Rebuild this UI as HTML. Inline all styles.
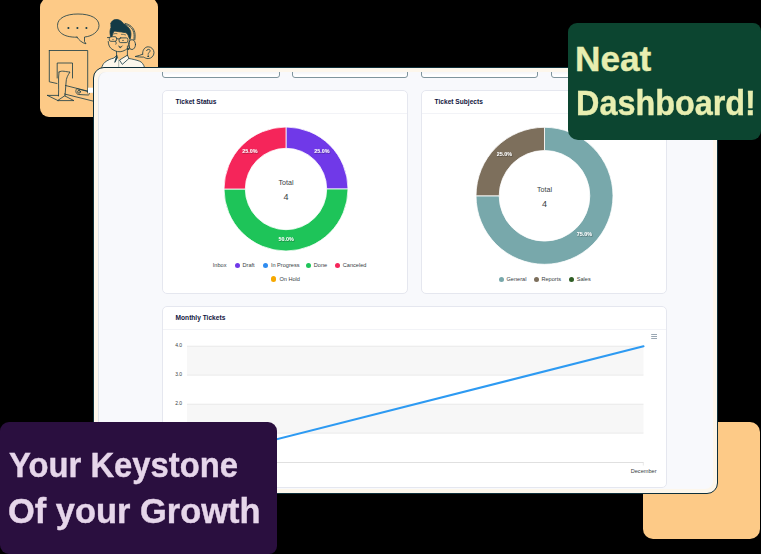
<!DOCTYPE html>
<html><head><meta charset="utf-8">
<style>
*{box-sizing:border-box;margin:0;padding:0}
html,body{width:761px;height:554px;overflow:hidden;background:#000}
body{position:relative;font-family:"Liberation Sans",sans-serif}
.abs{position:absolute}
.or{background:#fdca87}
.frame{left:93px;top:67px;width:625px;height:427px;border:1px solid #0e2f3a;border-radius:11px;background:#fdf7ec}
.inner{left:98px;top:72px;width:615px;height:417px;background:#f8f9fc;border-radius:8px;border-left:1px solid #dfe4ea;overflow:hidden}
.tc{background:linear-gradient(#f6f7fa 0,#f6f7fa 34px,#fff 36px);border:1px solid #7f959d;border-radius:3px;height:40px;top:-34px}
.card{background:#fff;border:1px solid #e5e7ef;border-radius:5px}
.ttl{position:absolute;left:12.6px;top:7px;font-weight:bold;font-size:6.6px;color:#121640;white-space:nowrap}
.hdiv{position:absolute;left:0;right:0;top:22px;height:1px;background:#f2f3f7}
.lg{position:absolute;font-size:5.6px;color:#373d3f;white-space:nowrap}
.dot{position:absolute;width:5.4px;height:5.4px;border-radius:50%}
.neat{left:568px;top:23px;width:193px;height:117px;background:#0c4530;border-radius:9px 8px 9px 10px}
.neat div{position:absolute;left:8px;font-weight:bold;font-size:35.2px;color:#e8eeb0;white-space:nowrap;line-height:1;transform-origin:0 0;-webkit-text-stroke:0.4px #e8eeb0}
.key{left:0;top:422px;width:277px;height:132px;background:#2a0f3f;border-radius:9px 9px 8px 9px}
.key div{position:absolute;left:8px;font-weight:bold;font-size:35.2px;color:#e6d6ea;white-space:nowrap;line-height:1;transform-origin:0 0;-webkit-text-stroke:0.4px #e6d6ea}
</style></head>
<body>
<!-- top-left orange illustration card -->
<div class="abs or" style="left:40px;top:-2px;width:118px;height:119px;border-radius:9px"></div>
<svg class="abs" style="left:0;top:0" width="170" height="125" viewBox="0 0 170 125" fill="none" stroke="#143a45" stroke-width="0.8" stroke-linecap="round" stroke-linejoin="round">
  <!-- speech bubble -->
  <path d="M77 37.2 C 62 37.5 57.5 31 57.5 25.5 C 57.5 18 66 14 78 14 C 91 14 99 18.5 99 25.5 C 99 31.5 92 36.5 84.5 37 L 84.5 41.5 L 86 43.8 C 82 43 79 40 77 37.2 Z"/>
  <circle cx="68.4" cy="28" r="1.05" fill="#143a45" stroke="none"/>
  <circle cx="77.4" cy="28" r="1.05" fill="#143a45" stroke="none"/>
  <circle cx="86.4" cy="28" r="1.05" fill="#143a45" stroke="none"/>
  <!-- monitor -->
  <path d="M49.3 50.5 L87.7 50.5 L87.7 93 M49.3 50.5 L49.3 81.8 L57 83.5"/>
  <path d="M57.2 78 L57.2 63 L72.5 63 L72.5 78"/>
  <path d="M59 72 C 62 70 66 72 70 72 C 68 75 66 78 66 83 L 65 96 M 59 72 C 58 78 59 88 58.5 96"/>
  <path d="M47.4 95.4 L 58.5 95.4 M 65 96 L 73.9 100.6 L 58 100.6 Z"/>
  <path d="M47.4 95.4 L 58 100.6"/>
  <path d="M65.5 85.5 L 92.8 92.4 M 64.5 94 L 92.8 101"/>
  <path d="M76.5 89 C 75 91 76 94 78.5 94.5 L 88 95 C 90 95 90 92 88 91.5 Z"/>
  <circle cx="79" cy="91.8" r="1.4"/>
  <rect x="88" y="87.7" width="5.5" height="5.2" fill="#fff" stroke="none"/>
  <!-- person: shirt -->
  <path d="M101.6 68 C 102.3 65.5 103.3 63.6 104.8 62.3 C 107.5 60.2 110.8 58.7 113.8 58.1 L 116.6 55.6 L 118.7 60.2 L 127.6 55.5 L 128.9 58.5 C 132 59 136.5 60 139.4 61.1 C 141.8 62 143.6 64 144.7 68 Z" fill="#fbf7ec" stroke="none"/>
  <path d="M101.6 68 C 102.3 65.5 103.3 63.6 104.8 62.3 C 107.5 60.2 110.8 58.7 113.8 58.1 L 116.6 55.6 M 128.9 58.5 C 132 59 136.5 60 139.4 61.1 C 141.8 62 143.6 64 144.7 68"/>
  <path d="M116.6 55.6 L 114.8 62.4 L 117.4 57.8 Z" fill="#143a45"/>
  <path d="M118.7 60.2 L 118.7 67.5" stroke="#8a9a90" stroke-width="0.7"/>
  <path d="M119.7 60.4 L 122.3 64.4 L 128.9 58.5 L 127.6 55.5 Z"/>
  <!-- neck -->
  <path d="M116.5 51.6 L 116.6 55.6 M 127.4 46 L 127.4 55.5"/>
  <circle cx="128.2" cy="49" r="0.6" fill="#143a45"/>
  <!-- face -->
  <path d="M108.2 41.5 C 108.3 45 109.8 47.8 112 49.2 C 114 50.5 116 51.3 117.5 51.6 C 121 52.2 124.8 51 127.6 48.3"/>
  <path d="M115.6 41.5 C 116.2 42.5 116.5 43.3 115.9 44.2"/>
  <path d="M118.6 46.2 C 119.6 47.5 121.4 47.4 122.3 46 M119.3 46.8 C 119.5 48 120.6 48.2 121.1 47.1"/>
  <!-- hair -->
  <path d="M111 23.2 C 111.8 20.8 113.6 19.7 115.7 19.6 C 117.5 19.5 119.3 19.9 120.6 20.8 C 122 21.6 123 22.7 123.4 23.8 C 125 24.6 126.6 25.7 127.8 27 C 129.2 28.4 130.2 29.8 130.6 31.4 C 131 33 131 34.5 130.8 36 C 130.6 37.3 130.3 38.5 130 39.6 C 129.3 38.5 128.8 37.2 128.4 35.8 C 127.9 34.6 127.2 33.6 126.5 33 C 125.5 32.5 124.8 32.4 124 32.4 C 122.3 32.1 120.6 31.8 118.9 31.7 C 117.4 31.5 115.9 31.2 114.5 31.1 C 113.8 31.7 113.3 32.4 112.9 33.3 C 112.5 34.3 112.2 35.4 112 36.5 C 111.4 36.3 110.8 36.1 110.4 35.8 C 110.1 34.3 110 32.8 110 31.4 C 110.1 30.1 110.5 28.8 111 27.6 C 110.8 26.1 110.8 24.6 111 23.2 Z" fill="#143a45"/>
  <path d="M113.5 33.9 C 114.6 33.5 115.8 33.4 117 33.6 M 121.3 34.3 C 122.8 34.2 124.3 34.4 125.6 34.9" stroke-width="0.6"/>
  <!-- glasses -->
  <path d="M107.4 37.6 L 109.3 37.4"/>
  <rect x="109.3" y="36.7" width="7.3" height="4.6" rx="1.6"/>
  <rect x="119.1" y="37.9" width="8.8" height="4.7" rx="1.6"/>
  <path d="M116.6 38.6 L 119.1 39"/>
  <circle cx="123" cy="40.4" r="0.6" fill="#143a45" stroke="none"/>
  <circle cx="113" cy="39.4" r="0.5" fill="#143a45" stroke="none"/>
  <!-- headphone -->
  <path d="M124.5 24.5 C 129 25 132.5 28 133.7 32.5 C 134.3 35 134.2 37.5 133.8 39.8"/>
  <path d="M125 23.4 C 130 24.2 133.6 27.6 134.8 32.3 C 135.3 34.8 135.2 37.3 134.8 39.8"/>
  <ellipse cx="132" cy="44.6" rx="3.5" ry="4.9" fill="#fdca87"/>
  <path d="M129.6 40.5 C 129 43 129 46.5 129.8 48.8"/>
  <!-- question bubble -->
  <path d="M142.7 54.2 C 142.2 50.5 144.6 46.8 148.2 46.8 C 151.5 46.8 154 49.5 154 52.7 C 154 55.9 151.3 58.6 148.1 58.6 C 146.4 58.6 144.9 57.9 143.8 57.1 C 141 57.2 138 56.9 135.1 56.5 C 138 55.9 140.6 55.2 142.7 54.2"/>
  <path d="M146.6 50.6 C 146.8 48.9 150.3 48.7 150.1 50.9 C 149.9 52.4 148.1 52.6 148.1 54.3"/>
  <circle cx="148.1" cy="56.2" r="0.45" fill="#143a45"/>
</svg>

<!-- bottom-right orange card -->
<div class="abs or" style="left:643px;top:422px;width:117px;height:117px;border-radius:10px"></div>

<!-- dashboard frame -->
<div class="abs frame"></div>
<div class="abs inner">
  <!-- top cards (coords relative to inner: x-98, y-72) -->
  <div class="abs tc" style="left:63px;width:118px"></div>
  <div class="abs tc" style="left:193px;width:116px"></div>
  <div class="abs tc" style="left:322px;width:117px"></div>
  <div class="abs tc" style="left:452px;width:116px"></div>

  <!-- Ticket Status card -->
  <div class="abs card" style="left:63px;top:18px;width:246px;height:204px">
    <div class="ttl">Ticket Status</div>
    <div class="hdiv"></div>
  </div>
  <!-- Ticket Subjects card -->
  <div class="abs card" style="left:322px;top:18px;width:246px;height:204px">
    <div class="ttl">Ticket Subjects</div>
    <div class="hdiv"></div>
  </div>
  <!-- Monthly Tickets card -->
  <div class="abs card" style="left:63px;top:234px;width:505px;height:182px">
    <div class="ttl">Monthly Tickets</div>
    <div class="hdiv"></div>
  </div>
</div>

<!-- charts drawn in page coordinates -->
<svg class="abs" style="left:0;top:0" width="761" height="554" viewBox="0 0 761 554">
  <!-- donut 1 center 286,189 R62 r40.7 -->
  <g stroke="#fff" stroke-width="0.8">
    <path d="M286 127 A62 62 0 0 1 348 189 L326.7 189 A40.7 40.7 0 0 0 286 148.3 Z" fill="#7039e8"/>
    <path d="M348 189 A62 62 0 0 1 224 189 L245.3 189 A40.7 40.7 0 0 0 326.7 189 Z" fill="#1ec459"/>
    <path d="M224 189 A62 62 0 0 1 286 127 L286 148.3 A40.7 40.7 0 0 0 245.3 189 Z" fill="#f5255a"/>
  </g>
  <!-- donut 2 center 544.5,195.8 R68.5 r45.3 -->
  <g stroke="#fff" stroke-width="0.8">
    <path d="M544.5 127.3 A68.5 68.5 0 1 1 476 195.8 L499.2 195.8 A45.3 45.3 0 1 0 544.5 150.5 Z" fill="#78a8ab"/>
    <path d="M476 195.8 A68.5 68.5 0 0 1 544.5 127.3 L544.5 150.5 A45.3 45.3 0 0 0 499.2 195.8 Z" fill="#7d6f5c"/>
  </g>
  <defs><filter id="ds" x="-20%" y="-20%" width="140%" height="160%"><feDropShadow dx="0.5" dy="0.7" stdDeviation="0.5" flood-color="#000" flood-opacity="0.45"/></filter></defs>
  <g font-family="Liberation Sans" font-weight="bold" font-size="5.4" fill="#fff" text-anchor="middle" filter="url(#ds)">
    <text x="250" y="153.2">25.0%</text>
    <text x="321.8" y="153.2">25.0%</text>
    <text x="286.2" y="240.8">50.0%</text>
    <text x="504.4" y="156.3">25.0%</text>
    <text x="584.5" y="236.4">75.0%</text>
  </g>
  <g font-family="Liberation Sans" fill="#373d3f" text-anchor="middle">
    <text x="286" y="185" font-size="7.1">Total</text>
    <text x="286" y="200.3" font-size="9">4</text>
    <text x="544.5" y="192" font-size="7.1">Total</text>
    <text x="544.5" y="207.4" font-size="9">4</text>
  </g>

  <!-- monthly chart -->
  <rect x="187" y="346" width="456.5" height="29" fill="#f7f7f7"/>
  <rect x="187" y="404" width="456.5" height="29" fill="#f7f7f7"/>
  <g stroke="#e0e0e0" stroke-width="0.6">
    <line x1="187" y1="346.2" x2="643.5" y2="346.2"/>
    <line x1="187" y1="375.2" x2="643.5" y2="375.2"/>
    <line x1="187" y1="404.2" x2="643.5" y2="404.2"/>
    <line x1="187" y1="433.2" x2="643.5" y2="433.2"/>
  </g>
  <line x1="187" y1="462.5" x2="643.5" y2="462.5" stroke="#d8d8d8" stroke-width="0.8"/>
  <line x1="643.3" y1="462.5" x2="643.3" y2="465.5" stroke="#d8d8d8" stroke-width="0.6"/>
  <line x1="187" y1="462" x2="643.5" y2="346.3" stroke="#2d9af2" stroke-width="2" stroke-linecap="round"/>
  <g font-family="Liberation Sans" fill="#373d3f" font-size="5">
    <text x="175.2" y="347.3">4.0</text>
    <text x="175.2" y="376.2">3.0</text>
    <text x="175.2" y="405.2">2.0</text>
    <text x="630.7" y="472.6" font-size="5.6">December</text>
  </g>
  <g stroke="#6e8192" stroke-width="0.7">
    <line x1="651.2" y1="334.5" x2="657" y2="334.5"/>
    <line x1="651.2" y1="336.5" x2="657" y2="336.5"/>
    <line x1="651.2" y1="338.5" x2="657" y2="338.5"/>
  </g>
</svg>

<!-- legends -->
<div class="lg" style="left:212.8px;top:262.4px">Inbox</div>
<div class="dot" style="left:234.7px;top:262.8px;background:#7039e8"></div>
<div class="lg" style="left:242.5px;top:262.4px">Draft</div>
<div class="dot" style="left:262.6px;top:262.8px;background:#2f8cf0"></div>
<div class="lg" style="left:270.9px;top:262.4px">In Progress</div>
<div class="dot" style="left:305.5px;top:262.8px;background:#1ec459"></div>
<div class="lg" style="left:313.8px;top:262.4px">Done</div>
<div class="dot" style="left:334.6px;top:262.8px;background:#f5255a"></div>
<div class="lg" style="left:342.8px;top:262.4px">Canceled</div>
<div class="dot" style="left:271.1px;top:276.2px;background:#f6a800"></div>
<div class="lg" style="left:279.4px;top:275.8px">On Hold</div>

<div class="dot" style="left:498.8px;top:276.6px;background:#78a8ab"></div>
<div class="lg" style="left:506.5px;top:275.6px">General</div>
<div class="dot" style="left:533.6px;top:276.6px;background:#7d6f5c"></div>
<div class="lg" style="left:541.4px;top:275.6px">Reports</div>
<div class="dot" style="left:568.7px;top:276.6px;background:#2f5e25"></div>
<div class="lg" style="left:576.7px;top:275.6px">Sales</div>

<!-- Neat Dashboard box -->
<div class="abs neat">
  <div style="top:18.3px;left:7px;transform:scaleX(1.0)">Neat</div>
  <div style="top:62.3px;transform:scaleX(0.92)">Dashboard!</div>
</div>

<!-- Keystone box -->
<div class="abs key">
  <div style="top:24.5px;left:9px;transform:scaleX(0.932)">Your Keystone</div>
  <div style="top:71px;transform:scaleX(0.979)">Of your Growth</div>
</div>
</body></html>
